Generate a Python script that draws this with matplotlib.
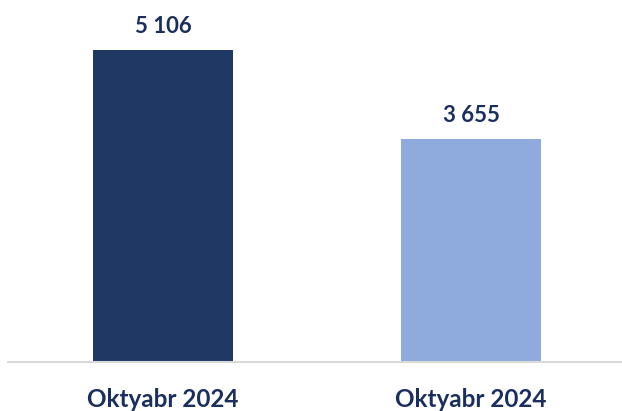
import matplotlib.pyplot as plt

categories = ["Oktyabr 2024", "Oktyabr 2024"]
values = [5106, 3655]
labels = ["5 106", "3 655"]
colors = ["#203864", "#8FAADC"]
text_color = "#1B2F5E"

plt.rcParams['font.family'] = ['Lato', 'DejaVu Sans']

fig = plt.figure(figsize=(6.22, 4.11), dpi=100)
ax = fig.add_axes([8 / 622, 49 / 411, 614 / 622, 362 / 411])

x = range(len(values))
bars = ax.bar(x, values, width=0.455, color=colors)

for b, lab in zip(bars, labels):
    ax.annotate(lab, (b.get_x() + b.get_width() / 2, b.get_height()),
                xytext=(0, 12), textcoords='offset points',
                ha='center', va='baseline', fontsize=16, fontweight='bold',
                color=text_color)

ax.set_xlim(-0.503, 1.49)
ax.set_ylim(0, 5924)
ax.set_xticks(list(x))
ax.set_xticklabels(categories, fontsize=17.5, fontweight='bold', color=text_color)
ax.tick_params(axis='x', length=0, pad=19)
ax.set_yticks([])
for s in ['top', 'right', 'left']:
    ax.spines[s].set_visible(False)
ax.spines['bottom'].set_color('#D9D9D9')
ax.spines['bottom'].set_linewidth(1.5)

fig.savefig('out.png', dpi=100)
